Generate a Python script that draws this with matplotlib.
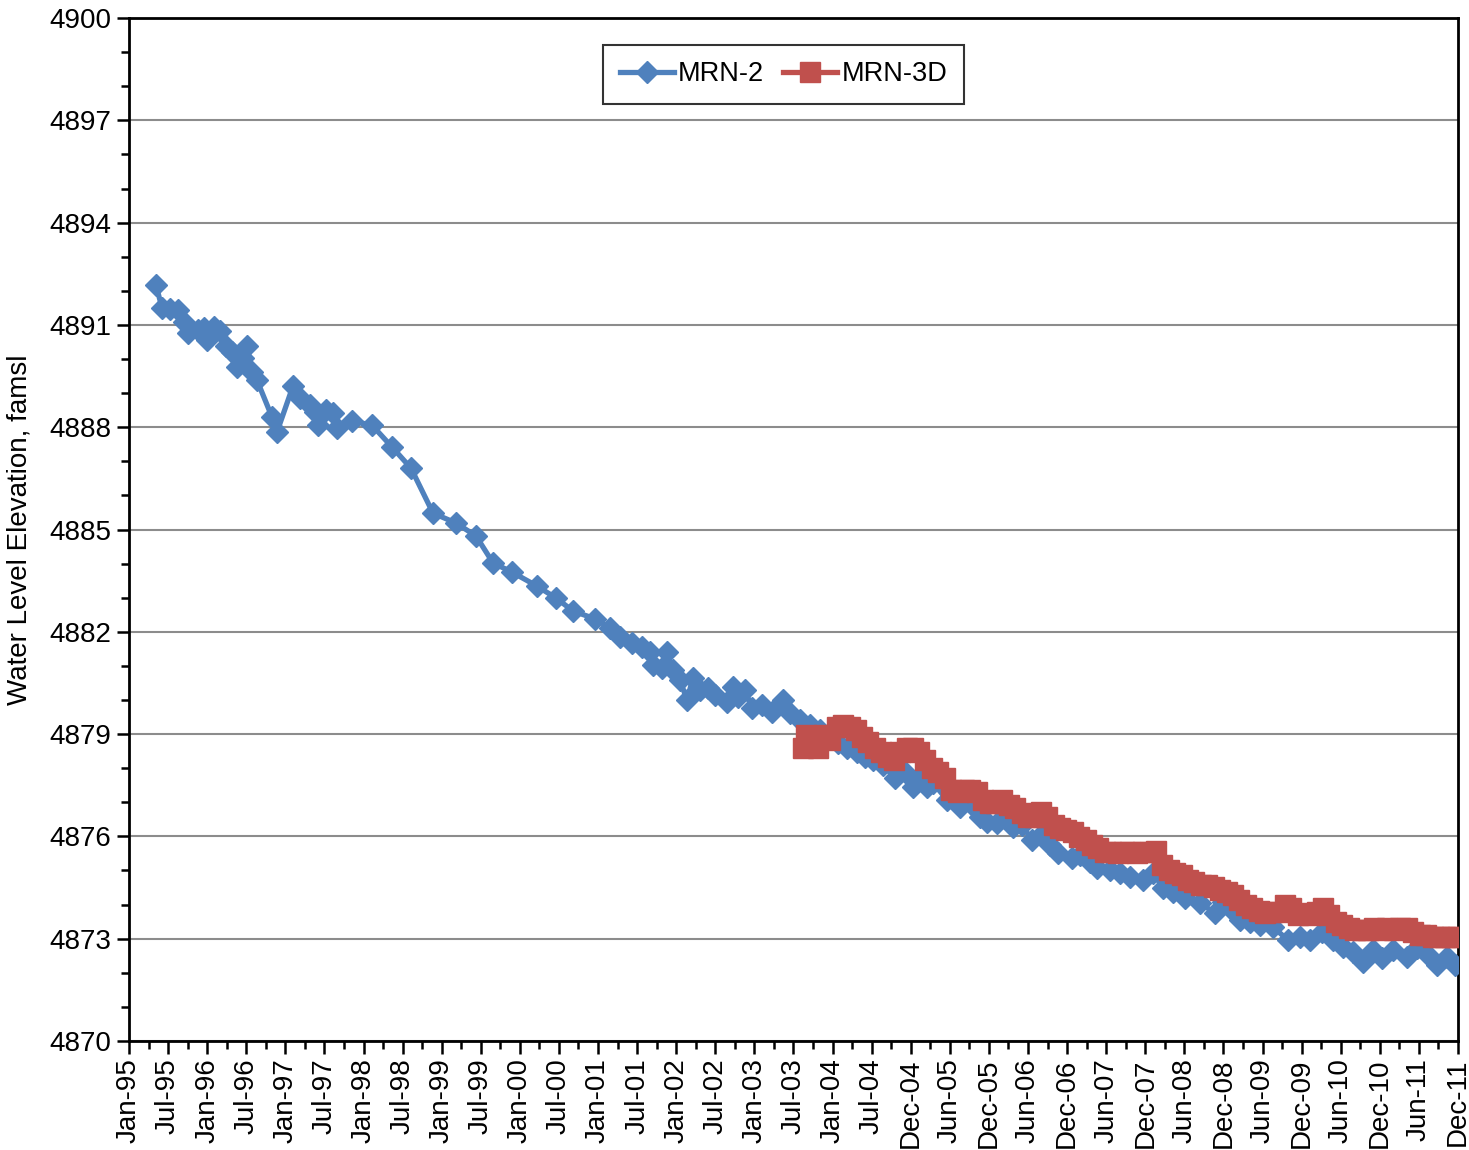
import numpy as np
import matplotlib
matplotlib.use("Agg")
import matplotlib.pyplot as plt
from matplotlib.ticker import FixedLocator

plt.rcParams["font.family"] = ["Liberation Sans", "DejaVu Sans"]

# MRN-2 readings (decimal year, ft amsl)
mrn2_year = [
    1995.344, 1995.421, 1995.523, 1995.625, 1995.701, 1995.752, 1995.880, 1995.956,
    1995.994, 1996.084, 1996.160, 1996.237, 1996.313, 1996.377, 1996.453, 1996.504,
    1996.568, 1996.632, 1996.823, 1996.887, 1997.091, 1997.180, 1997.307, 1997.371,
    1997.409, 1997.511, 1997.600, 1997.651, 1997.843, 1998.098, 1998.353, 1998.595,
    1998.876, 1999.169, 1999.424, 1999.641, 1999.883, 2000.202, 2000.444, 2000.661,
    2000.941, 2001.132, 2001.259, 2001.412, 2001.540, 2001.642, 2001.680, 2001.795,
    2001.859, 2001.935, 2002.024, 2002.113, 2002.190, 2002.279, 2002.381, 2002.470,
    2002.623, 2002.700, 2002.764, 2002.853, 2002.942, 2003.070, 2003.197, 2003.337,
    2003.427, 2003.554, 2003.682, 2003.810, 2003.940, 2004.039, 2004.153, 2004.281,
    2004.383, 2004.485, 2004.612, 2004.765, 2004.893, 2004.995, 2005.109, 2005.173,
    2005.250, 2005.428, 2005.594, 2005.747, 2005.849, 2005.938, 2006.066, 2006.168,
    2006.270, 2006.384, 2006.512, 2006.652, 2006.741, 2006.843, 2007.022, 2007.124,
    2007.251, 2007.340, 2007.506, 2007.633, 2007.761, 2007.927, 2008.055, 2008.182,
    2008.309, 2008.462, 2008.653, 2008.845, 2008.947, 2009.061, 2009.163, 2009.291,
    2009.418, 2009.584, 2009.775, 2009.928, 2010.056, 2010.209, 2010.349, 2010.477,
    2010.604, 2010.731, 2010.859, 2010.974, 2011.114, 2011.292, 2011.420, 2011.586,
    2011.675, 2011.802, 2011.904,
]
mrn2_level = [
    4892.17, 4891.50, 4891.47, 4891.44, 4891.09, 4890.76, 4890.85, 4890.91,
    4890.56, 4890.94, 4890.82, 4890.38, 4890.21, 4889.77, 4890.03, 4890.38,
    4889.62, 4889.38, 4888.30, 4887.86, 4889.21, 4888.86, 4888.65, 4888.45,
    4888.06, 4888.50, 4888.42, 4887.98, 4888.18, 4888.06, 4887.42, 4886.80,
    4885.48, 4885.19, 4884.81, 4884.02, 4883.75, 4883.34, 4882.99, 4882.61,
    4882.38, 4882.11, 4881.85, 4881.67, 4881.55, 4881.41, 4881.03, 4880.94,
    4881.41, 4880.88, 4880.59, 4880.00, 4880.65, 4880.29, 4880.35, 4880.15,
    4879.94, 4880.38, 4880.09, 4880.29, 4879.77, 4879.85, 4879.65, 4880.00,
    4879.62, 4879.41, 4879.27, 4879.12, 4878.91, 4878.74, 4878.59, 4878.48,
    4878.33, 4878.24, 4878.09, 4877.71, 4877.89, 4877.45, 4877.80, 4877.45,
    4877.57, 4877.07, 4876.86, 4876.92, 4876.57, 4876.42, 4876.39, 4876.54,
    4876.27, 4876.33, 4875.89, 4876.10, 4875.75, 4875.51, 4875.37, 4875.45,
    4875.25, 4875.07, 4875.01, 4874.93, 4874.81, 4874.72, 4874.93, 4874.49,
    4874.37, 4874.19, 4874.05, 4873.75, 4874.08, 4873.84, 4873.55, 4873.49,
    4873.40, 4873.34, 4872.96, 4873.05, 4872.96, 4873.20, 4872.96, 4872.76,
    4872.61, 4872.32, 4872.67, 4872.43, 4872.67, 4872.46, 4872.73, 4872.46,
    4872.23, 4872.46, 4872.23,
]

# MRN-3D readings
mrn3d_year = [
    2003.592, 2003.630, 2003.707, 2003.784, 2003.860, 2003.937, 2004.026, 2004.102,
    2004.192, 2004.268, 2004.345, 2004.421, 2004.510, 2004.587, 2004.676, 2004.753,
    2004.829, 2004.918, 2004.995, 2005.071, 2005.148, 2005.237, 2005.314, 2005.403,
    2005.479, 2005.568, 2005.645, 2005.721, 2005.811, 2005.887, 2005.976, 2006.053,
    2006.129, 2006.219, 2006.295, 2006.384, 2006.461, 2006.550, 2006.626, 2006.703,
    2006.792, 2006.869, 2006.945, 2007.034, 2007.111, 2007.200, 2007.277, 2007.353,
    2007.442, 2007.519, 2007.608, 2007.685, 2007.761, 2007.850, 2007.927, 2008.016,
    2008.093, 2008.169, 2008.258, 2008.335, 2008.424, 2008.501, 2008.577, 2008.667,
    2008.743, 2008.832, 2008.909, 2008.998, 2009.074, 2009.151, 2009.240, 2009.317,
    2009.406, 2009.482, 2009.572, 2009.648, 2009.737, 2009.814, 2009.903, 2009.979,
    2010.056, 2010.145, 2010.222, 2010.298, 2010.387, 2010.464, 2010.553, 2010.630,
    2010.719, 2010.795, 2010.872, 2010.961, 2011.038, 2011.127, 2011.203, 2011.292,
    2011.369, 2011.458, 2011.535, 2011.624, 2011.700, 2011.777, 2011.866, 2011.943,
]
mrn3d_level = [
    4878.59, 4878.97, 4878.77, 4878.59, 4878.97, 4878.83, 4879.21, 4879.27,
    4879.21, 4879.12, 4878.91, 4878.77, 4878.59, 4878.48, 4878.33, 4878.24,
    4878.48, 4878.59, 4878.59, 4878.48, 4878.24, 4878.01, 4877.89, 4877.71,
    4877.36, 4877.30, 4877.36, 4877.36, 4877.30, 4877.07, 4876.98, 4876.98,
    4877.07, 4876.92, 4876.83, 4876.69, 4876.57, 4876.57, 4876.72, 4876.57,
    4876.33, 4876.25, 4876.19, 4876.13, 4875.98, 4875.89, 4875.75, 4875.66,
    4875.54, 4875.54, 4875.51, 4875.54, 4875.54, 4875.51, 4875.54, 4875.54,
    4875.57, 4875.16, 4875.01, 4874.93, 4874.87, 4874.72, 4874.66, 4874.57,
    4874.57, 4874.52, 4874.43, 4874.37, 4874.28, 4874.13, 4873.99, 4873.90,
    4873.81, 4873.75, 4873.78, 4873.78, 4873.99, 4873.90, 4873.69, 4873.75,
    4873.69, 4873.78, 4873.90, 4873.69, 4873.49, 4873.40, 4873.31, 4873.26,
    4873.26, 4873.26, 4873.31, 4873.26, 4873.31, 4873.26, 4873.31, 4873.31,
    4873.20, 4873.11, 4873.11, 4873.05, 4873.05, 4873.05, 4873.05, 4873.05,
]

tick_labels = [
    "Jan-95", "Jul-95", "Jan-96", "Jul-96", "Jan-97", "Jul-97", "Jan-98", "Jul-98",
    "Jan-99", "Jul-99", "Jan-00", "Jul-00", "Jan-01", "Jul-01", "Jan-02", "Jul-02",
    "Jan-03", "Jul-03", "Jan-04", "Jul-04", "Dec-04", "Jun-05", "Dec-05", "Jun-06",
    "Dec-06", "Jun-07", "Dec-07", "Jun-08", "Dec-08", "Jun-09", "Dec-09", "Jun-10",
    "Dec-10", "Jun-11", "Dec-11",
]

X_START = 1995.0
X_END = 1995.0 + 6188 / 365.25
Y_MIN, Y_MAX = 4870, 4900
BLUE = "#4F81BD"
RED = "#C0504D"


def main():
    fig = plt.figure(figsize=(14.69, 11.5), dpi=100)
    ax = fig.add_axes([0.0878, 0.0948, 0.9047, 0.8895])

    ax.plot(mrn2_year, mrn2_level, color=BLUE, lw=3.8, marker="D", ms=11,
            mfc=BLUE, mec=BLUE, label="MRN-2", zorder=3)
    ax.plot(mrn3d_year, mrn3d_level, color=RED, lw=3.8, marker="s", ms=14,
            mfc=RED, mec=RED, label="MRN-3D", zorder=4)

    ax.set_xlim(X_START, X_END)
    ax.set_ylim(Y_MIN, Y_MAX)

    step = (X_END - X_START) / (len(tick_labels) - 1)
    major = [X_START + i * step for i in range(len(tick_labels))]
    minor = [X_START + (i + 0.5) * step for i in range(len(tick_labels) - 1)]
    ax.xaxis.set_major_locator(FixedLocator(major))
    ax.xaxis.set_minor_locator(FixedLocator(minor))
    ax.set_xticklabels(tick_labels, rotation=90, fontsize=20)

    ax.yaxis.set_major_locator(FixedLocator(np.arange(Y_MIN, Y_MAX + 1, 3)))
    ax.yaxis.set_minor_locator(FixedLocator(np.arange(Y_MIN, Y_MAX + 1, 1)))
    ax.tick_params(axis="y", labelsize=20)
    ax.tick_params(which="major", direction="out", length=9, width=1.8)
    ax.tick_params(which="minor", direction="out", length=6, width=1.8)
    ax.yaxis.grid(True, which="major", color="#8c8c8c", lw=1.5)
    ax.set_axisbelow(True)

    for sp in ax.spines.values():
        sp.set_linewidth(2)
        sp.set_color("black")

    ax.set_ylabel("Water Level Elevation, famsl", fontsize=20, labelpad=12)

    leg = ax.legend(loc="upper center", bbox_to_anchor=(0.4925, 0.974), ncol=2,
                    fontsize=19.5, frameon=True, fancybox=False, handlelength=2.0,
                    columnspacing=0.7, handletextpad=0.15, borderpad=0.62,
                    borderaxespad=0)
    leg.get_frame().set_edgecolor("black")
    leg.get_frame().set_linewidth(1.5)

    fig.savefig("out.png", dpi=100)


if __name__ == "__main__":
    main()
